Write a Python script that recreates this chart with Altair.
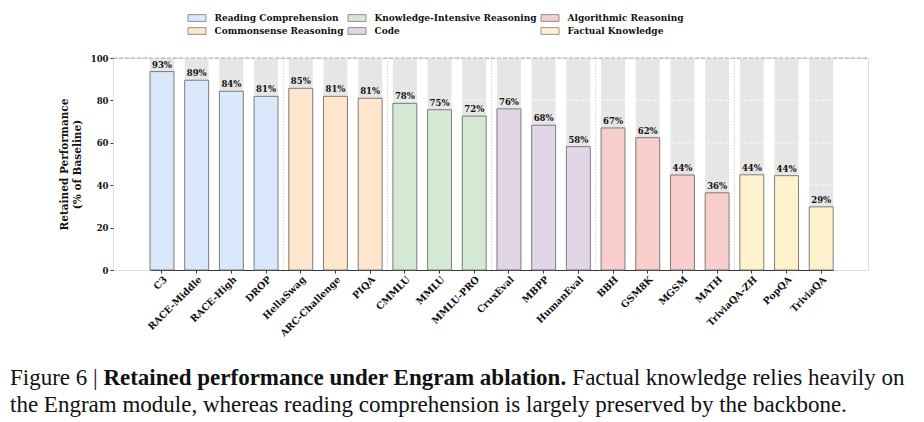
import altair as alt
import pandas as pd

categories = ["C3", "RACE-Middle", "RACE-High", "DROP", "HellaSwag", "ARC-Challenge", "PIQA",
              "CMMLU", "MMLU", "MMLU-PRO", "CruxEval", "MBPP", "HumanEval",
              "BBH", "GSM8K", "MGSM", "MATH", "TriviaQA-ZH", "PopQA", "TriviaQA"]
groups = ["Reading Comprehension"] * 4 + ["Commonsense Reasoning"] * 3 + \
         ["Knowledge-Intensive Reasoning"] * 3 + ["Code"] * 3 + \
         ["Algorithmic Reasoning"] * 4 + ["Factual Knowledge"] * 3
values = [93.6, 89.5, 84.3, 81.9, 85.7, 81.9, 81.0,
          78.6, 75.6, 72.6, 76.0, 68.3, 58.2,
          67.0, 62.4, 44.8, 36.4, 44.9, 44.5, 29.8]
labels = ["93%", "89%", "84%", "81%", "85%", "81%", "81%",
          "78%", "75%", "72%", "76%", "68%", "58%",
          "67%", "62%", "44%", "36%", "44%", "44%", "29%"]

group_order = ["Reading Comprehension", "Commonsense Reasoning", "Knowledge-Intensive Reasoning",
               "Code", "Algorithmic Reasoning", "Factual Knowledge"]
group_colors = ["#dae8fc", "#ffe6cc", "#d5e8d4", "#e1d5e7", "#f8cecc", "#fff2cc"]

y_ticks = [0, 20, 40, 60, 80, 100]
grid_vals = [20, 40, 60, 80]
y_max = 100

caption_head = "Figure 6 | "
caption_bold = "Retained performance under Engram ablation."
caption_rest1 = "Factual knowledge relies heavily on"
caption_line2 = "the Engram module, whereas reading comprehension is largely preserved by the backbone."

df = pd.DataFrame({"cat": categories, "group": groups, "value": values, "label": labels})
sep_df = pd.DataFrame({"cat": [categories[i] for i in range(1, len(categories)) if groups[i] != groups[i - 1]]})
grid_df = pd.DataFrame({"g": grid_vals})

W, H = 755, 212
SERIF = "DejaVu Serif"

x_scale = alt.Scale(paddingInner=0.31, paddingOuter=0, range=[37, 720.2])
x_axis = alt.Axis(title=None, labelAngle=315, labelAlign="right", labelBaseline="top",
                  labelFont=SERIF, labelFontWeight="bold", labelFontSize=9.5,
                  labelColor="#111", tickSize=3, tickColor="#333", domainColor="#333",
                  domainWidth=1, labelPadding=1, grid=False)
x_enc = alt.X("cat:N", sort=categories, scale=x_scale, axis=x_axis)
y_scale = alt.Scale(domain=[0, y_max], nice=False)
y_axis = alt.Axis(title=["Retained Performance", "(% of Baseline)"], values=y_ticks,
                  labelFont=SERIF, labelFontWeight="bold", labelFontSize=8.5, labelColor="#111",
                  domain=False, tickSize=3, tickColor="#333", grid=False,
                  titleFont=SERIF, titleFontWeight="bold", titleFontSize=10.5, titleColor="#111",
                  titlePadding=8, labelPadding=2)

bg = alt.Chart(df).transform_calculate(full=str(y_max)).mark_bar(color="#e6e6e6").encode(
    x=x_enc, y=alt.Y("full:Q", scale=y_scale, axis=y_axis))

grid = alt.Chart(grid_df).mark_rule(color="white", strokeDash=[4, 2], strokeWidth=0.8).encode(
    y=alt.Y("g:Q", scale=y_scale, axis=y_axis), x=alt.value(0), x2=alt.value(W))

seps = alt.Chart(sep_df).transform_calculate(top=str(y_max), bot="0").mark_rule(
    color="#c8c8c8", strokeDash=[1.5, 1.5], strokeWidth=0.8, xOffset=-5.4).encode(
    x=alt.X("cat:N", sort=categories, scale=x_scale, axis=x_axis, bandPosition=0),
    y=alt.Y("top:Q", scale=y_scale, axis=y_axis), y2="bot:Q")

bars = alt.Chart(df).mark_bar(stroke="#707070", strokeWidth=0.9).encode(
    x=x_enc, y=alt.Y("value:Q", scale=y_scale, axis=y_axis),
    color=alt.Color("group:N", scale=alt.Scale(domain=group_order, range=group_colors),
                    legend=alt.Legend(title=None, orient="none", legendX=76, legendY=-48, columns=3,
                                      symbolType="M-1.2,-0.45L1.2,-0.45L1.2,0.45L-1.2,0.45Z",
                                      symbolSize=225, symbolStrokeColor="#777", symbolStrokeWidth=0.8,
                                      labelFont=SERIF, labelFontWeight="bold", labelFontSize=9,
                                      labelColor="#111", labelOffset=9.5, columnPadding=2,
                                      rowPadding=0, labelLimit=300, symbolOpacity=1)))

texts = alt.Chart(df).mark_text(baseline="bottom", dy=-2, font=SERIF, fontWeight="bold",
                                fontSize=8.5, color="#111").encode(
    x=x_enc, y=alt.Y("value:Q", scale=y_scale, axis=y_axis), text="label:N")

topline = alt.Chart(pd.DataFrame({"v": [y_max]})).mark_rule(
    color="#999999", strokeDash=[4, 2], strokeWidth=0.8).encode(
    y=alt.Y("v:Q", scale=y_scale, axis=y_axis), x=alt.value(0), x2=alt.value(W))

CAP_FONT = "Liberation Serif"
CS = 23
cx0 = -103
def cap(txt, dx, dy, bold=False):
    return alt.Chart(pd.DataFrame({"t": [txt]})).mark_text(
        align="left", baseline="alphabetic", font=CAP_FONT, fontSize=CS,
        fontWeight="bold" if bold else "normal", color="#111").encode(
        text="t:N", x=alt.value(cx0 + dx), y=alt.value(dy))

c1 = cap(caption_head, 0, 327)
c2 = cap(caption_bold, 4.06 * CS, 327, True)
c3 = cap(caption_rest1, 24.45 * CS, 327)
c4 = cap(caption_line2, 0, 354)

chart = alt.layer(bg, grid, seps, bars, texts, topline, c1, c2, c3, c4).properties(
    width=W, height=H, padding={"left": 2, "top": 2, "right": 2, "bottom": 2}
).configure_view(stroke=None).configure(background="white")

chart.save("out.html", embed_options={"renderer": "svg", "actions": False})
